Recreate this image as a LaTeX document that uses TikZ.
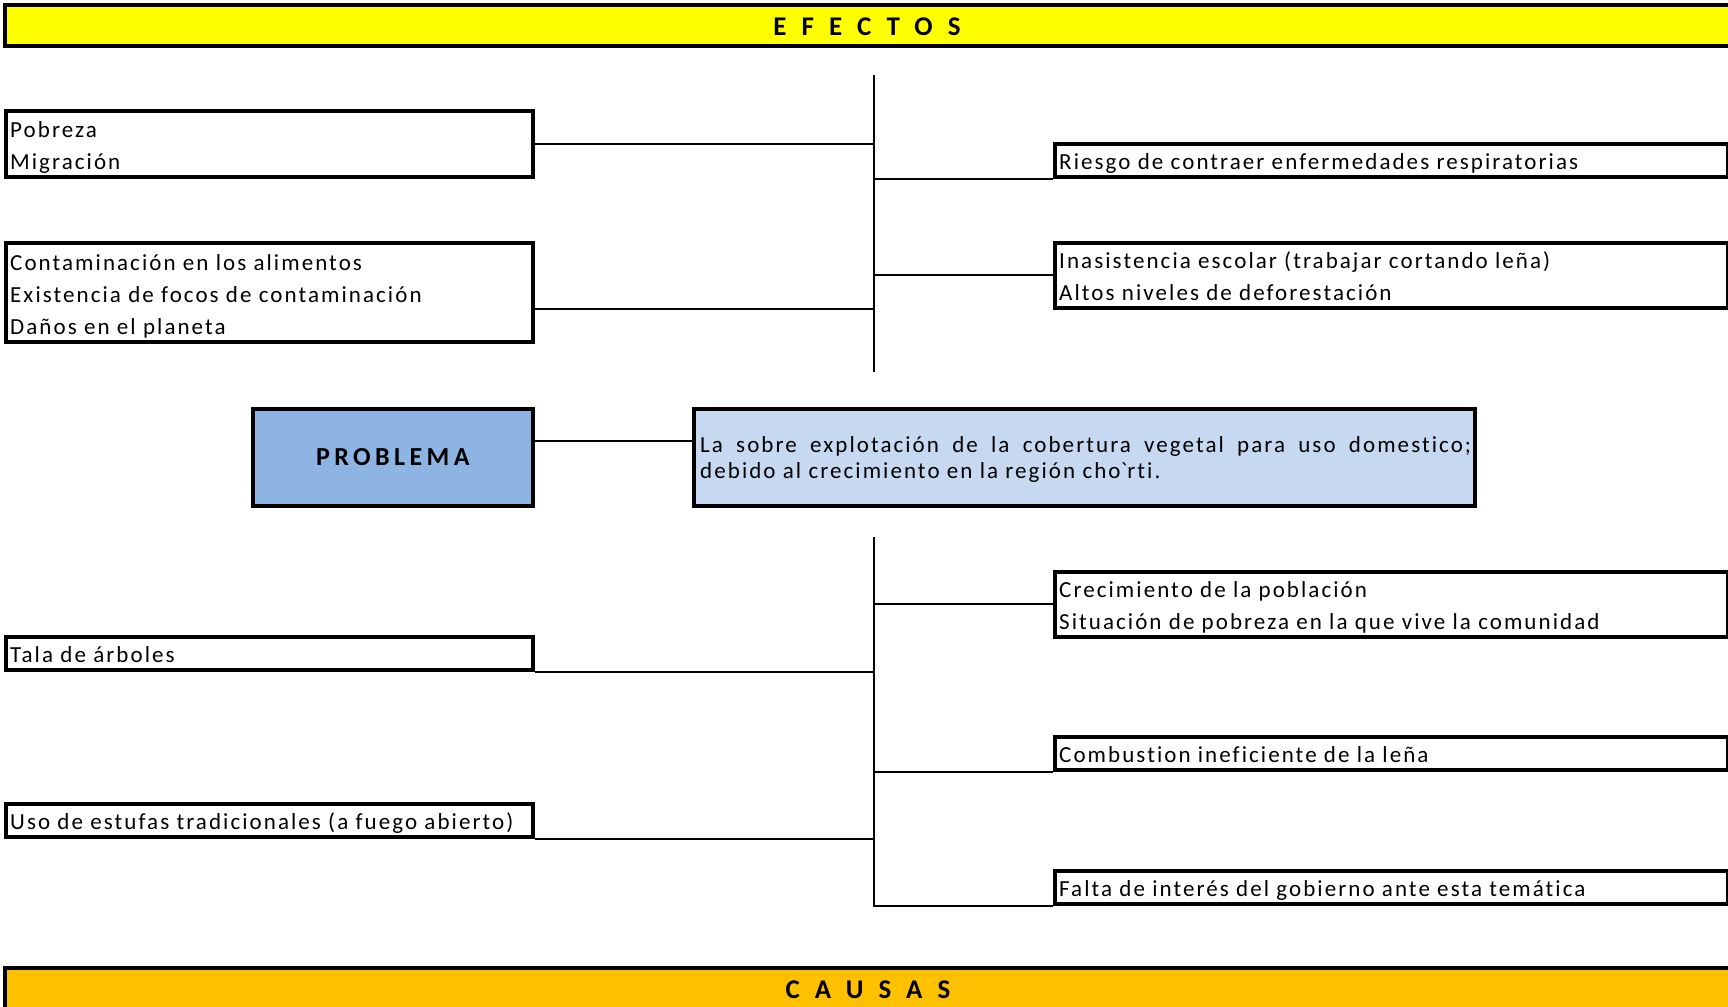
\documentclass[tikz,border=0pt]{standalone}
\usepackage{fontspec}
\setmainfont{Carlito}[LetterSpace=9,Ligatures=CommonOff]
\newfontfamily\hdfont[LetterSpace=56,Ligatures=CommonOff]{Carlito}
\newfontfamily\prfont[LetterSpace=17,Ligatures=CommonOff]{Carlito}
\definecolor{hdyellow}{HTML}{FFFF00}
\definecolor{hdorange}{HTML}{FFC000}
\definecolor{probblue}{HTML}{8EB4E3}
\definecolor{stmtblue}{HTML}{C6D9F1}
\newcommand\boxtext[2]{\node[btext] (#1t) at ([xshift=6pt,yshift=9.5pt]#1.south west) {\parbox[b]{640pt}{\raggedright #2}};}
\begin{document}
\begin{tikzpicture}[x=1pt,y=-1pt,
  ebox/.style={draw,line width=3.8pt,fill=white,anchor=north west,inner sep=0pt},
  btext/.style={anchor=base west,inner sep=0pt,font=\fontsize{23}{32}\selectfont},
  conn/.style={line width=2pt},
  bar/.style={draw,line width=3.8pt,anchor=north west,inner sep=0pt},
  hdtext/.style={font=\hdfont\bfseries\fontsize{27}{30}\selectfont,inner sep=0pt}]
\useasboundingbox (0,0) rectangle (1728,1006);
% header bars
\node[bar,fill=hdyellow,minimum width=1735pt,minimum height=41pt] (efbar) at (3,3) {};
\node[hdtext] (eft) at (867,27) {EFECTOS};
\node[bar,fill=hdorange,minimum width=1735pt,minimum height=50pt] (cabar) at (3,966) {};
\node[hdtext] (cat) at (868,990) {CAUSAS};
% effect boxes
\node[ebox,minimum width=527pt,minimum height=66pt] (pob) at (4,109) {};
\boxtext{pob}{Pobreza\\Migración}
\node[ebox,minimum width=527pt,minimum height=99pt] (cont) at (4,241) {};
\boxtext{cont}{Contaminación en los alimentos\\Existencia de focos de contaminación\\Daños en el planeta}
\node[ebox,minimum width=673pt,minimum height=33pt] (ries) at (1053,142) {};
\boxtext{ries}{Riesgo de contraer enfermedades respiratorias}
\node[ebox,minimum width=673pt,minimum height=65pt] (inas) at (1053,241) {};
\boxtext{inas}{Inasistencia escolar (trabajar cortando leña)\\Altos niveles de deforestación}
% problem
\node[draw,line width=3.8pt,fill=probblue,anchor=north west,minimum width=280pt,minimum height=97pt,inner sep=0pt,
  font=\prfont\bfseries\fontsize{26}{30}\selectfont] (prob) at (251,407) {PROBLEMA};
\node[draw,line width=3.8pt,fill=stmtblue,anchor=north west,minimum width=781pt,minimum height=97pt,inner sep=0pt] (stmt) at (692,407) {};
\node[anchor=base west,inner sep=0pt,font=\fontsize{23}{26.5}\selectfont] (stmtt) at ([xshift=8pt,yshift=29pt]stmt.south west)
  {\parbox[b]{771pt}{La sobre explotación de la cobertura vegetal para uso domestico;\linebreak debido al crecimiento en la región cho\textasciigrave rti.}};
% cause boxes
\node[ebox,minimum width=673pt,minimum height=65pt] (crec) at (1053,570) {};
\boxtext{crec}{Crecimiento de la población\\Situación de pobreza en la que vive la comunidad}
\node[ebox,minimum width=527pt,minimum height=33pt] (tala) at (4,635) {};
\boxtext{tala}{Tala de árboles}
\node[ebox,minimum width=673pt,minimum height=33pt] (comb) at (1053,735) {};
\boxtext{comb}{Combustion ineficiente de la leña}
\node[ebox,minimum width=527pt,minimum height=33pt] (uso) at (4,802) {};
\boxtext{uso}{Uso de estufas tradicionales (a fuego abierto)}
\node[ebox,minimum width=673pt,minimum height=33pt] (falta) at (1053,869) {};
\boxtext{falta}{Falta de interés del gobierno ante esta temática}
% spines
\coordinate (vt1) at (874,75);
\coordinate (vt2) at (874,372);
\coordinate (vb1) at (874,537);
\draw[conn] (vt1) -- (vt2);
\draw[conn] (vb1) -- (vb1 |- falta.south west) -- (falta.south west);
% effect connectors
\draw[conn] (pob.east) -- (pob.east -| vt1);
\draw[conn] ([yshift=-16.5pt]cont.east) -- ([yshift=-16.5pt]cont.east -| vt1);
\draw[conn] (ries.south west) -- (ries.south west -| vt1);
\draw[conn] (inas.west) -- (inas.west -| vt1);
% problem connector
\draw[conn] ([yshift=16pt]prob.east) -- ([yshift=16pt]prob.east -| stmt.west);
% cause connectors
\draw[conn] (crec.west) -- (crec.west -| vb1);
\draw[conn] (tala.south east) -- (tala.south east -| vb1);
\draw[conn] (comb.south west) -- (comb.south west -| vb1);
\draw[conn] (uso.south east) -- (uso.south east -| vb1);
\end{tikzpicture}
\end{document}
